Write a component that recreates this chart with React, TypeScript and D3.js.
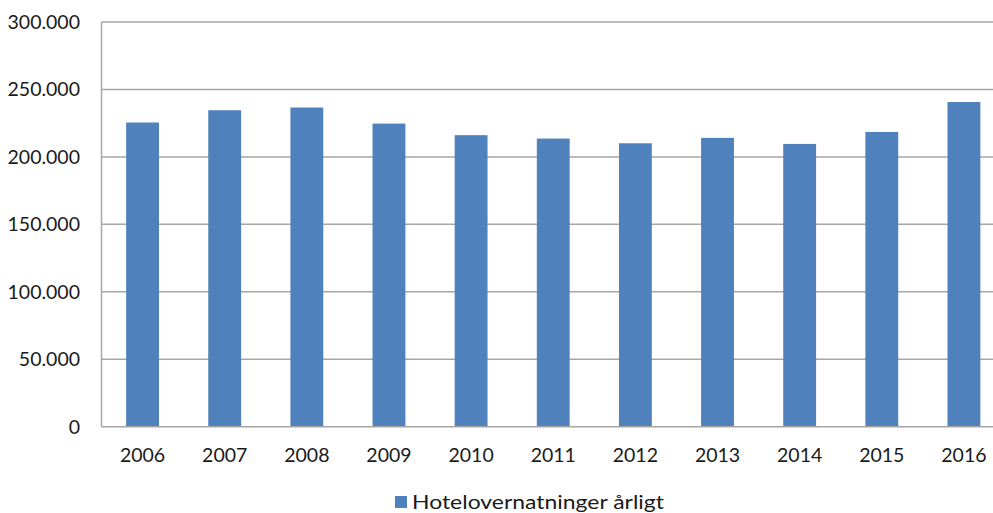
import React from "react";
import * as d3 from "d3";

const categories = ["2006", "2007", "2008", "2009", "2010", "2011", "2012", "2013", "2014", "2015", "2016"];
const values = [225500, 234600, 236600, 224700, 216100, 213600, 210100, 214100, 209600, 218500, 240700];
const yTicks = [0, 50000, 100000, 150000, 200000, 250000, 300000];
const seriesName = "Hotelovernatninger årligt";

const W = 993;
const H = 513;
const left = 101.5;
const right = 1005;
const top = 22;
const bottom = 426.7;

const fmt = (v: number) => (v === 0 ? "0" : d3.format(",")(v).replace(/,/g, "."));

export default function App() {
  const x = d3.scaleBand<string>().domain(categories).range([left, right]).paddingInner(0.6).paddingOuter(0.3);
  const y = d3.scaleLinear().domain([0, 300000]).range([bottom, top]);
  const font = "Lato, 'Open Sans', sans-serif";
  return (
    <svg width={W} height={H} style={{ position: "absolute", left: 0, top: 0, background: "#fff" }}>
      <rect x={0} y={0} width={W} height={H} fill="#fff" />
      {yTicks.map((t) => (
        <g key={t}>
          {t > 0 && <line x1={left} x2={right} y1={y(t)} y2={y(t)} stroke="#A6A6A6" strokeWidth={1.5} />}
          <text x={80} y={y(t)} dy="0.35em" textAnchor="end" fontFamily={font} fontSize={19.5} fill="#1a1a1a">
            {fmt(t)}
          </text>
        </g>
      ))}
      {categories.map((c, i) => (
        <rect key={c} x={x(c)} y={y(values[i])} width={x.bandwidth()} height={bottom - y(values[i])} fill="#4F81BD" />
      ))}
      <line x1={left} x2={left} y1={top} y2={bottom} stroke="#A6A6A6" strokeWidth={1.5} />
      <line x1={left} x2={right} y1={bottom} y2={bottom} stroke="#A6A6A6" strokeWidth={1.5} />
      {categories.map((c) => (
        <text key={c} x={x(c)! + x.bandwidth() / 2} y={455} dy="0.35em" textAnchor="middle" fontFamily={font} fontSize={19.5} fill="#1a1a1a">
          {c}
        </text>
      ))}
      <rect x={395} y={496} width={12} height={12} fill="#4F81BD" />
      <text x={412} y={502} dy="0.35em" fontFamily={font} fontSize={19.5} fill="#1a1a1a" textLength={252} lengthAdjust="spacingAndGlyphs">
        {seriesName}
      </text>
    </svg>
  );
}
